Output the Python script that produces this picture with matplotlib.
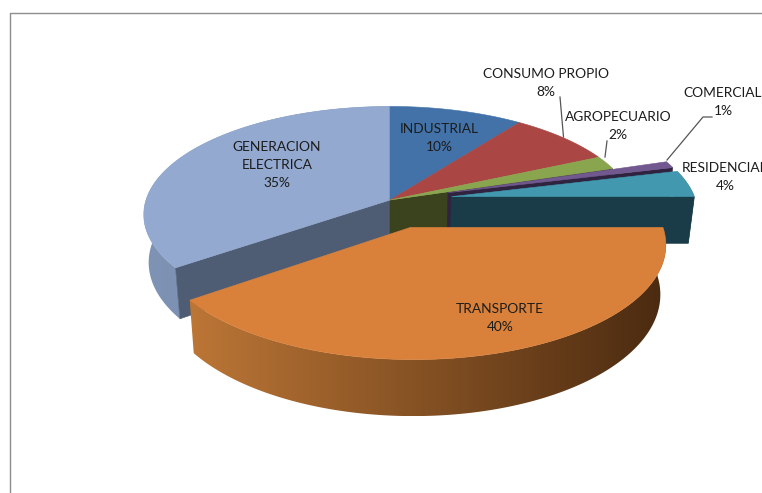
import numpy as np
import matplotlib
matplotlib.use("Agg")
import matplotlib.pyplot as plt
from matplotlib.colors import to_rgb
from matplotlib.patches import Polygon

categories = ["INDUSTRIAL", "CONSUMO PROPIO", "AGROPECUARIO", "COMERCIAL",
              "RESIDENCIAL", "TRANSPORTE", "GENERACION\nELECTRICA"]
shares = [10, 8, 2, 1, 4, 40, 35]
explode = [0, 0, 0, 0.25, 0.255, 0.262, 0]
top_colors = ["#4272A8", "#AA4643", "#89A54E", "#71588F", "#4198AF", "#D9813B", "#93A9CF"]
wall_colors = ["#3A431E", "#3A431E", "#3A431E", "#2F2340", "#1A3C48", "#8A5225", "#4E5D73"]

CX, CY, RX, RY, K, DEPTH, BOTTOM_X = 390, 200, 244, 106.2, 0.135, 47, 0.98

edges = np.cumsum([0] + shares) / sum(shares) * 2 * np.pi


def project(u, v, bottom=False):
    s = 1 / (1 + K * np.asarray(v))
    x = RX * np.asarray(u) * s
    y = -RY * np.asarray(v) * s
    if bottom:
        return CX + x * BOTTOM_X, CY + y + DEPTH * s
    return CX + x, CY + y


def offset(i):
    mid = (edges[i] + edges[i + 1]) / 2
    return explode[i] * np.sin(mid), explode[i] * np.cos(mid)


def rim(i):
    n = max(3, int((edges[i + 1] - edges[i]) * 80))
    t = np.linspace(edges[i], edges[i + 1], n)
    ou, ov = offset(i)
    return np.sin(t) + ou, np.cos(t) + ov


def poly(ax, xs, ys, color, z):
    patch = Polygon(np.column_stack([xs, ys]), closed=True, facecolor=color,
                    edgecolor=color, linewidth=0.4, zorder=z)
    ax.add_patch(patch)
    return patch


def top(ax, i, z):
    u, v = rim(i)
    ou, ov = offset(i)
    x, y = project(np.r_[ou, u], np.r_[ov, v])
    poly(ax, x, y, top_colors[i], z)


def wall(ax, i, angle, color, z):
    ou, ov = offset(i)
    ue, ve = np.array([ou, ou + np.sin(angle)]), np.array([ov, ov + np.cos(angle)])
    x0, y0 = project(ue, ve)
    x1, y1 = project(ue, ve, bottom=True)
    poly(ax, np.r_[x0, x1[::-1]], np.r_[y0, y1[::-1]], color, z)


def side(ax, i, c_left, c_right, z):
    """Outer rim of a slice: a horizontal gradient image clipped to the rim's outline."""
    u, v = rim(i)
    x0, y0 = project(u, v)
    x1, y1 = project(u, v, bottom=True)
    xs, ys = np.r_[x0, x1[::-1]], np.r_[y0, y1[::-1]]
    outline = Polygon(np.column_stack([xs, ys]), closed=True, facecolor="none",
                      edgecolor="none", transform=ax.transData)
    ax.add_patch(outline)
    f = np.linspace(0, 1, 256)[None, :, None]
    grad = np.array(to_rgb(c_left))[None, None, :] * (1 - f) + np.array(to_rgb(c_right))[None, None, :] * f
    img = ax.imshow(grad, extent=(xs.min(), xs.max(), ys.max(), ys.min()), aspect="auto",
                    interpolation="bilinear", zorder=z)
    img.set_clip_path(outline)


fig = plt.figure(figsize=(7.62, 4.93), dpi=100)
ax = fig.add_axes([0, 0, 1, 1])

# chart frame (open at right and bottom, as cropped)
ax.plot([9.5, 9.5, 762], [493, 12.5, 12.5], color="#8E8E8E", lw=1, zorder=0)

I, CP, AG, CO, RE, TR, GE = range(7)
# back group
side(ax, GE, "#7F93B5", "#6D84A6", 1)
wall(ax, GE, edges[GE], wall_colors[GE], 2)
wall(ax, AG, edges[AG + 1], wall_colors[AG], 2)
for i in (GE, I, CP, AG):
    top(ax, i, 3)
# comercial
wall(ax, CO, edges[CO + 1], wall_colors[CO], 4)
top(ax, CO, 5)
# residencial
side(ax, RE, "#20505E", "#173641", 6)
wall(ax, RE, edges[RE + 1], wall_colors[RE], 7)
top(ax, RE, 8)
# transporte
side(ax, TR, "#BC7636", "#4A2A10", 9)
top(ax, TR, 10)

# leader lines
line = dict(color="#555555", lw=0.9, zorder=11)
ax.plot([560, 563.5], [97, 137], **line)
ax.plot([607, 605], [141, 157], **line)
ax.plot([712, 703, 667], [117, 117, 160], **line)

# labels
font = ["Lato", "DejaVu Sans"]
positions = [(439, 138), (546, 83), (618, 126), (723, 102), (725, 177), (500, 318), (277, 165)]
for name, share, (x, y) in zip(categories, shares, positions):
    ax.text(x, y, f"{name}\n{share}%", ha="center", va="center", fontsize=9.9,
            family=font, color="#1C1C1C", linespacing=1.6, zorder=12, clip_on=False)

ax.set_xlim(0, 762)
ax.set_ylim(493, 0)
ax.axis("off")

fig.savefig("out.png", dpi=100)
